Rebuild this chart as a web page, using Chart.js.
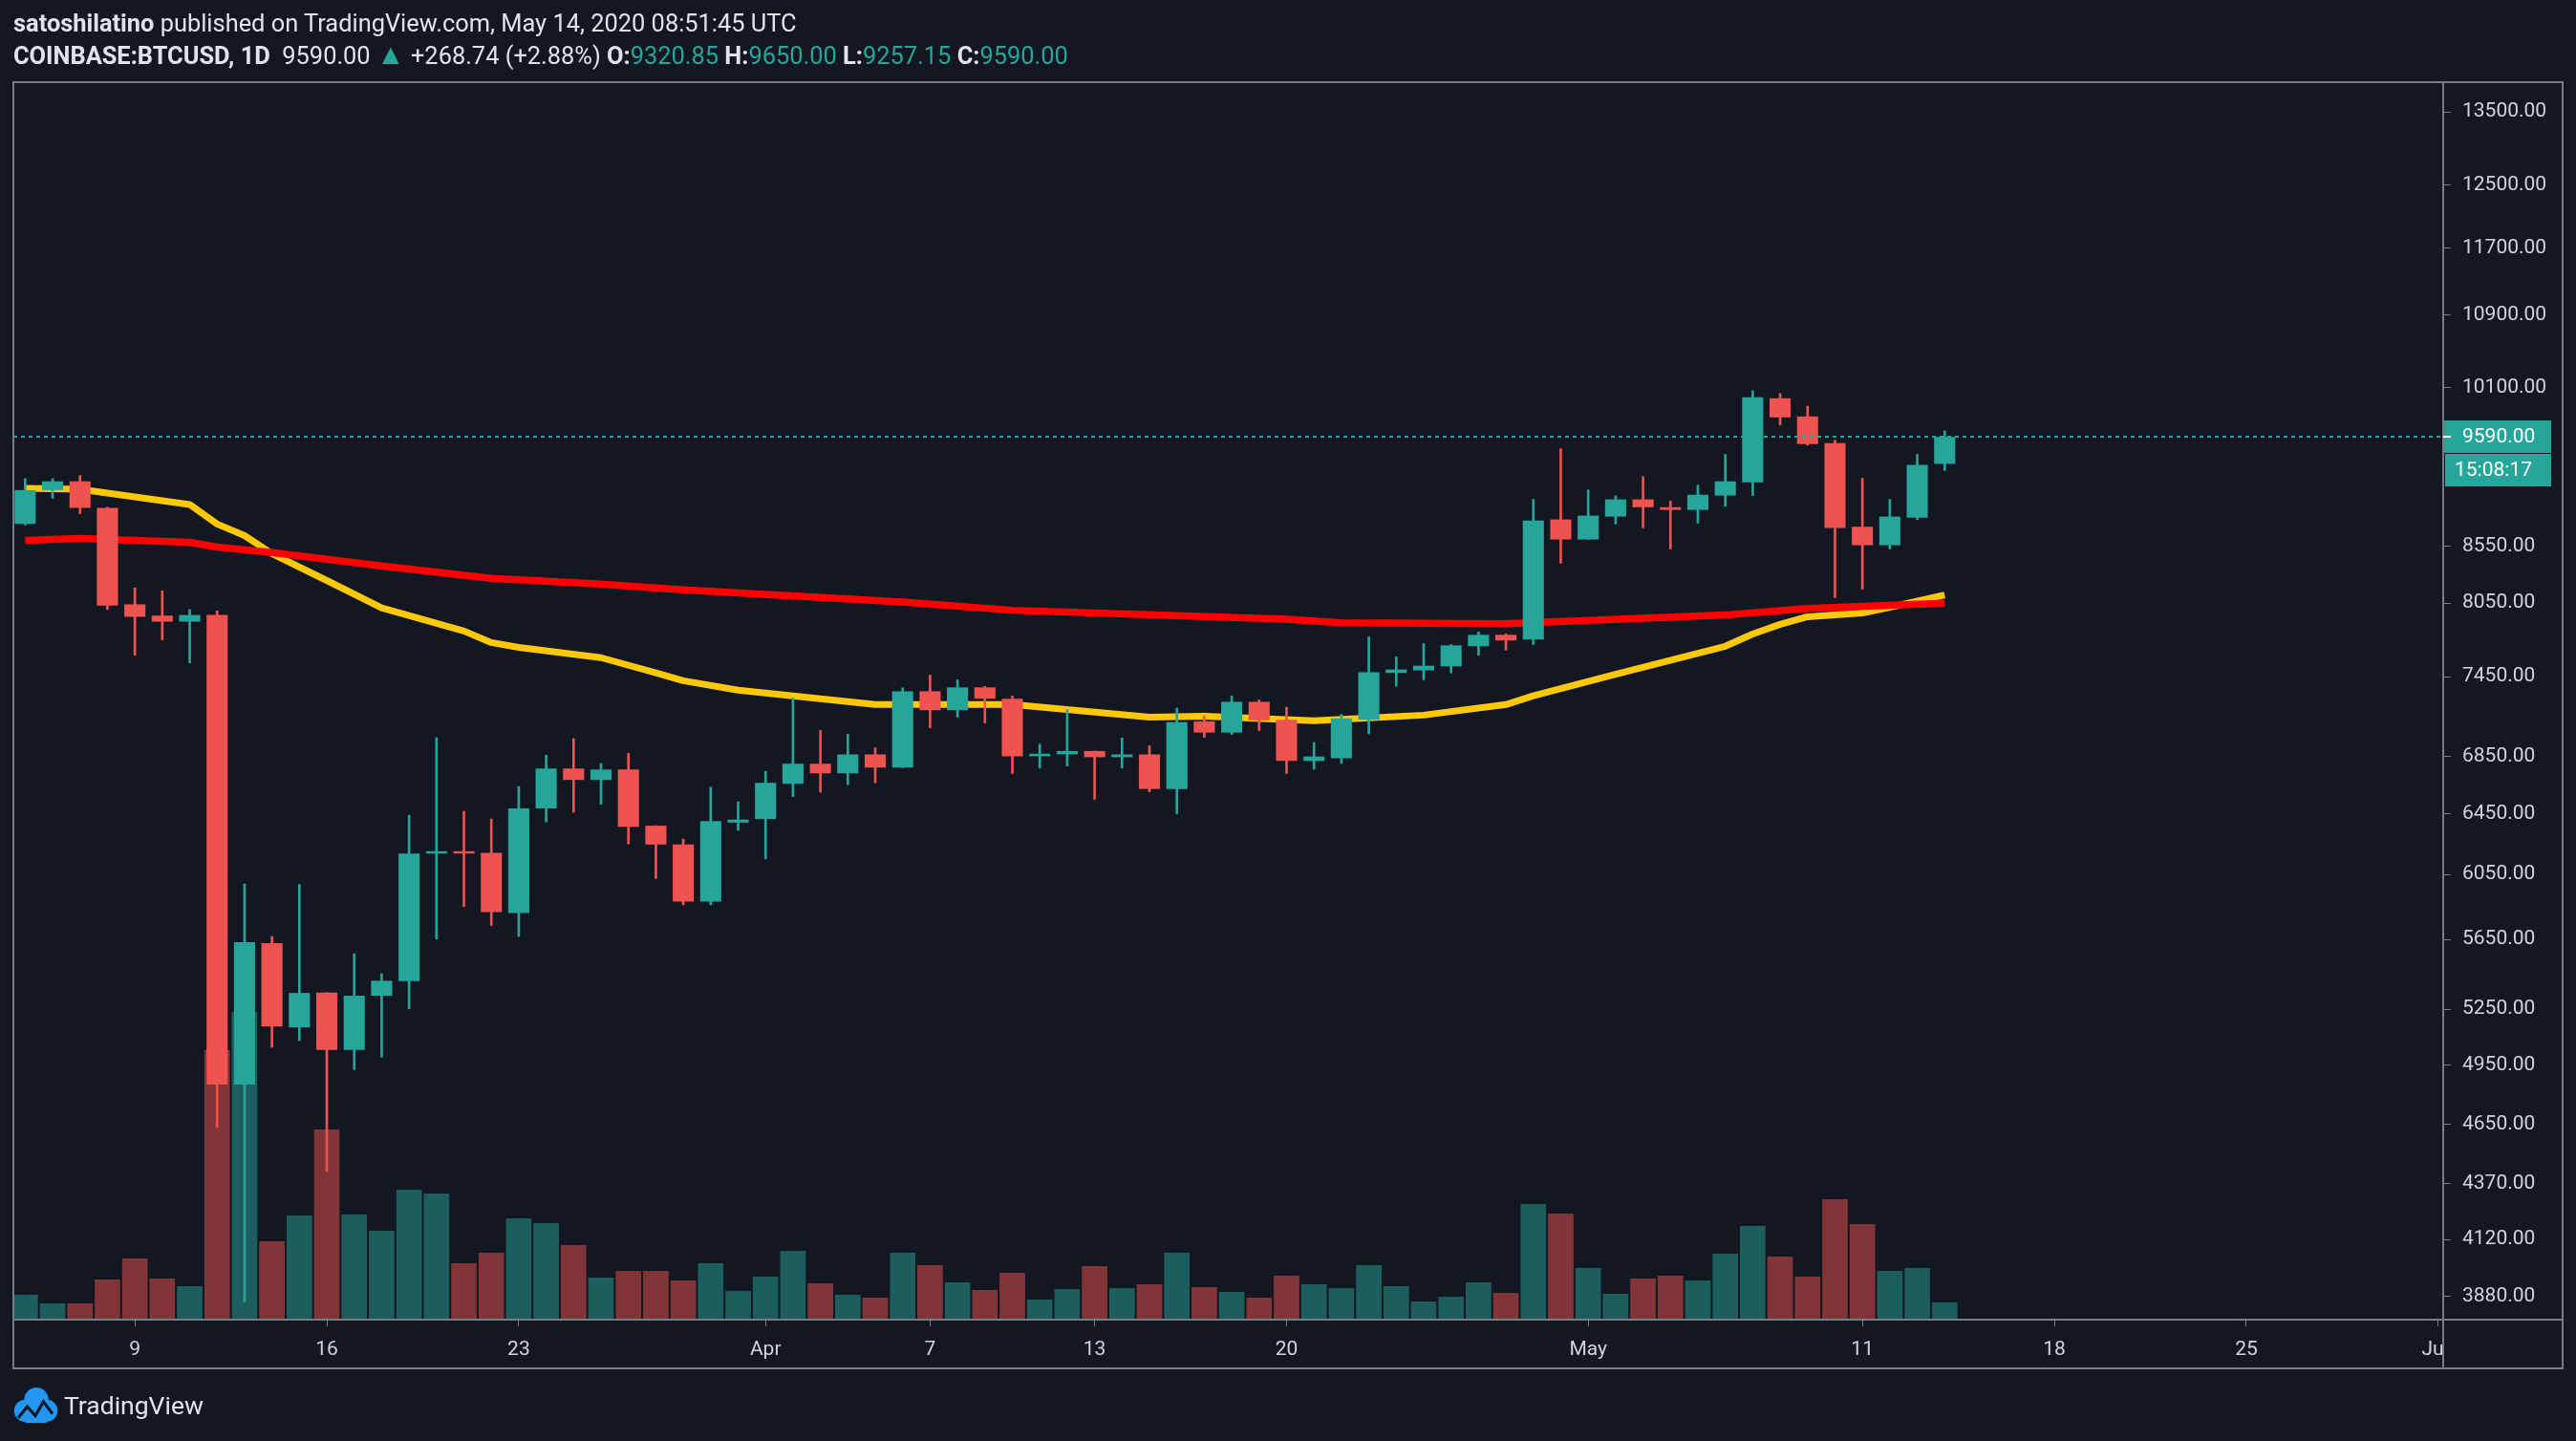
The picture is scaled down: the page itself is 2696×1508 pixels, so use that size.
<!DOCTYPE html>
<html>
<head>
<meta charset="utf-8">
<script src="https://cdn.jsdelivr.net/npm/chart.js@4.4.1/dist/chart.umd.min.js"></script>
<style>
  html, body { margin:0; padding:0; background:#131722; }
  #wrap { position:relative; width:2696px; height:1508px; overflow:hidden; }
  canvas { position:absolute; left:0; top:0; }
  .hdr { position:absolute; left:14px; font-family:Roboto, sans-serif; font-size:25.4px; line-height:28px; color:#e0e3eb; white-space:pre; }
  .up { color:#26a69a; }
  .tri { font-size:30px; }
  #logo { position:absolute; left:12px; top:1451px; display:flex; align-items:center; font-family:Roboto, sans-serif; font-size:26.5px; color:#e0e3eb; }
  #logo svg { margin-right:5px; }
</style>
</head>
<body>
<div id="wrap">
  <canvas id="chart" width="2696" height="1508"></canvas>
  <div class="hdr" style="top:10px"><b>satoshilatino</b> published on TradingView.com, May 14, 2020 08:51:45 UTC</div>
  <div class="hdr" style="top:43px"><b>COINBASE:BTCUSD, 1D</b>  9590.00 <span class="up tri">▲</span> +268.74 (+2.88%) <b>O:</b><span class="up">9320.85</span> <b>H:</b><span class="up">9650.00</span> <b>L:</b><span class="up">9257.15</span> <b>C:</b><span class="up">9590.00</span></div>
  <div id="logo">
    <svg width="50" height="38" viewBox="0 0 46 36">
      <circle cx="13" cy="24" r="11" fill="#2196f3"/>
      <circle cx="24" cy="13" r="12" fill="#2196f3"/>
      <circle cx="34" cy="24" r="11" fill="#2196f3"/>
      <rect x="13" y="20" width="21" height="16" fill="#2196f3"/>
      <polyline points="6,31 15,20 23,29 31,15 40,27" fill="none" stroke="#131722" stroke-width="3"/>
    </svg>
    <span>TradingView</span>
  </div>
</div>
<script>
// daily candles, Mar 5 .. May 14 2020 (month-day)
const dates = ['03-05','03-06','03-07','03-08','03-09','03-10','03-11','03-12','03-13','03-14','03-15','03-16','03-17','03-18','03-19','03-20','03-21','03-22','03-23','03-24','03-25','03-26','03-27','03-28','03-29','03-30','03-31',
  '04-01','04-02','04-03','04-04','04-05','04-06','04-07','04-08','04-09','04-10','04-11','04-12','04-13','04-14','04-15','04-16','04-17','04-18','04-19','04-20','04-21','04-22','04-23','04-24','04-25','04-26','04-27','04-28','04-29','04-30',
  '05-01','05-02','05-03','05-04','05-05','05-06','05-07','05-08','05-09','05-10','05-11','05-12','05-13','05-14'];

const open = [8750,9067,9151,8899,8040,7945,7895,7950,4850,5628,5151,5343,5030,5325,5408,6185,6200,6190,5810,6486,6764,6683,6757,6369,6244,5880,6390,
  6414,6656,6798,6730,6865,6771,7337,7192,7367,7280,6852,6866,6890,6845,6865,6620,7108,7025,7256,7120,6818,6838,7120,7480,7500,7532,7693,7786,7747,8791,
  8608,8818,8979,8905,8880,9015,9142,9987,9798,9527,8724,8556,8808,9320.85];
const high = [9178,9178,9206,8905,8180,8155,7996,7985,5990,5668,5987,5343,5566,5450,6439,6987,6466,6414,6637,6860,6980,6800,6874,6369,6280,6632,6530,
  6744,7286,7040,7013,6913,7364,7463,7426,7375,7300,6940,7197,6890,6985,6928,7208,7150,7300,7270,7215,6952,7160,7770,7608,7715,7707,7810,7793,8979,9471,
  9069,9012,9198,8962,9114,9414,10067,10037,9905,9556,9180,8979,9414,9650];
const low = [8740,8990,8845,7996,7620,7745,7560,4636,3858,5044,5080,4426,4927,4992,5253,5653,5850,5734,5668,6394,6460,6514,6248,6025,5860,5860,6338,
  6150,6567,6598,6651,6663,6770,7060,7141,7096,6729,6767,6782,6548,6767,6600,6450,6990,7010,7040,6729,6760,6800,7015,7376,7426,7480,7620,7662,7707,8395,
  8608,8749,8714,8522,8758,8914,9015,9710,9507,8097,8170,8522,8790,9257.15];
const close = [9067,9151,8899,8030,7935,7895,7950,4850,5634,5156,5341,5030,5325,5410,6185,6200,6185,5815,6486,6764,6683,6757,6362,6244,5880,6400,6410,
  6663,6798,6730,6865,6771,7337,7192,7367,7280,6852,6870,6890,6845,6865,6620,7102,7025,7256,7116,6818,6850,7130,7486,7507,7537,7700,7786,7740,8782,8608,
  8827,8979,8905,8880,9023,9151,9997,9788,9517,8714,8556,8818,9310,9590];
// volume, thousand BTC (estimated)
const volume = [10.4,6.8,6.8,16.8,25.6,17.2,14.0,112.8,128.8,32.8,43.6,79.6,44.0,37.2,54.4,52.8,23.6,28.0,42.4,40.4,31.2,17.6,20.4,20.4,16.4,23.6,12.0,
  18.0,28.8,15.2,10.4,9.2,28.0,22.8,15.6,12.4,19.6,8.4,12.8,22.4,13.2,14.8,28.0,13.6,11.6,9.2,18.4,14.8,13.2,22.8,14.0,7.6,9.6,15.6,11.2,48.4,44.4,
  21.6,10.8,17.2,18.4,16.4,27.6,39.2,26.4,18.0,50.4,40.0,20.4,21.6,7.2];

// moving averages, read at their corners
const maRedDates = ['03-05','03-07','03-11','03-12','03-14','03-18','03-22','03-26','03-29','04-06','04-10','04-16','04-20','04-22','04-28','05-06','05-09','05-14'];
const maRedValues = [8600,8617,8583,8540,8490,8371,8262,8213,8164,8060,7990,7945,7915,7885,7878,7950,8005,8050];
const maYellowDates = ['03-05','03-07','03-11','03-12','03-13','03-14','03-16','03-18','03-21','03-22','03-23','03-26','03-28','03-29','03-31','04-02','04-05','04-10','04-15','04-17','04-21','04-25','04-28','04-29','05-02','05-06','05-07','05-08','05-09','05-11','05-12','05-14'];
const maYellowValues = [9085,9075,8931,8749,8643,8480,8244,8010,7817,7723,7684,7601,7480,7419,7345,7302,7235,7235,7140,7147,7113,7155,7235,7302,7470,7693,7793,7872,7935,7967,8015,8120];

const xTickDates = ['03-09','03-16','03-23','04-01','04-07','04-13','04-20','05-01','05-11','05-18','05-25','06-01'];
const xTickLabels = ['9','16','23','Apr','7','13','20','May','11','18','25','Jun'];
const priceTicks = [13500,12500,11700,10900,10100,8550,8050,7450,6850,6450,6050,5650,5250,4950,4650,4370,4120,3880];
const lastPrice = 9590;
const countdown = '15:08:17';

const UP = '#26a69a', DOWN = '#ef5350';
const GREY = '#787b86';
const FONT = { family: 'Roboto', size: 21 };

function dayOf(md){
  const [m, d] = md.split('-').map(Number);
  return (Date.UTC(2020, m-1, d) - Date.UTC(2020, 2, 9)) / 864e5;
}

const xs = dates.map(dayOf);
const isUp = close.map((c,i) => c >= open[i]);
const candleColors = isUp.map(u => u ? UP : DOWN);
const volColors = isUp.map(u => u ? 'rgba(38,166,154,0.5)' : 'rgba(239,83,80,0.5)');

const lastPricePlugin = {
  id: 'lastPrice',
  afterDatasetsDraw(chart){
    const {ctx, chartArea:a, scales:{y}} = chart;
    const py = Math.round(y.getPixelForValue(lastPrice));
    ctx.save();
    ctx.strokeStyle = UP; ctx.lineWidth = 2; ctx.setLineDash([4,4]);
    ctx.beginPath(); ctx.moveTo(a.left, py); ctx.lineTo(a.right, py); ctx.stroke();
    ctx.restore();
  },
  afterDraw(chart){
    const {ctx, chartArea:a, scales:{x,y}} = chart;
    ctx.save();
    // "Jun" label is cut by the price scale
    ctx.fillStyle = '#131722';
    ctx.fillRect(a.right+1, x.top+1, y.right - a.right - 1, x.bottom - x.top - 2);
    ctx.strokeStyle = GREY; ctx.lineWidth = 2;
    ctx.strokeRect(a.left, a.top, y.right - a.left, x.bottom - a.top);
    ctx.beginPath();
    ctx.moveTo(a.right, a.top); ctx.lineTo(a.right, x.bottom);
    ctx.moveTo(a.left, a.bottom); ctx.lineTo(y.right, a.bottom);
    ctx.stroke();

    const py = Math.round(y.getPixelForValue(lastPrice));
    ctx.fillStyle = UP;
    ctx.fillRect(a.right+1, py-17, 112, 34);
    ctx.fillRect(a.right+2, py+18, 111, 34);
    ctx.strokeStyle = '#ffffff'; ctx.lineWidth = 2;
    ctx.beginPath(); ctx.moveTo(a.right, py); ctx.lineTo(a.right+8, py); ctx.stroke();
    ctx.fillStyle = '#ffffff';
    ctx.font = '21px Roboto';
    ctx.textBaseline = 'middle';
    ctx.fillText(lastPrice.toFixed(2), a.right+20, py+1);
    ctx.fillText(countdown, a.right+12, py+36);
    ctx.restore();
  }
};

new Chart(document.getElementById('chart'), {
  type: 'bar',
  data: {
    datasets: [
      { type:'bar', label:'Volume', yAxisID:'vol', order:5,
        data: xs.map((x,i) => ({x, y: volume[i]})),
        backgroundColor: volColors, borderWidth:0, grouped:false,
        categoryPercentage:1, barPercentage:0.93 },
      { type:'line', label:'MA yellow', yAxisID:'y', order:4,
        data: maYellowDates.map((d,i) => ({x: dayOf(d), y: maYellowValues[i]})),
        borderColor:'#ffc805', borderWidth:7, pointRadius:0, tension:0, borderJoinStyle:'round' },
      { type:'line', label:'MA red', yAxisID:'y', order:3,
        data: maRedDates.map((d,i) => ({x: dayOf(d), y: maRedValues[i]})),
        borderColor:'#ff0000', borderWidth:7.5, pointRadius:0, tension:0, borderJoinStyle:'round' },
      { type:'bar', label:'Wicks', yAxisID:'y', order:2,
        data: xs.map((x,i) => ({x, y: [low[i], high[i]]})),
        backgroundColor: candleColors, borderWidth:0, grouped:false, barThickness:2 },
      { type:'bar', label:'Bodies', yAxisID:'y', order:1,
        data: xs.map((x,i) => ({x, y: [open[i], close[i]]})),
        backgroundColor: candleColors, borderWidth:0, grouped:false, minBarLength:2,
        categoryPercentage:1, barPercentage:0.77 }
    ]
  },
  options: {
    responsive:false, animation:false, devicePixelRatio:1,
    layout: { padding: { left:14, top:86, right:14, bottom:76 } },
    plugins: { legend:{display:false}, tooltip:{enabled:false} },
    scales: {
      x: { type:'linear', min:-4.43, max:84.18, offset:false,
        afterBuildTicks: s => { s.ticks = xTickDates.map(d => ({value: dayOf(d)})); },
        afterFit: s => { s.height = 51; },
        grid: { offset:false, drawOnChartArea:false, tickLength:7, color:GREY },
        border: { display:false },
        ticks: { autoSkip:false, maxRotation:0, padding:12, color:'#d1d4dc', font:FONT,
          callback: (v, i) => xTickLabels[i] } },
      y: { type:'logarithmic', position:'right', min:3787, max:13929,
        afterBuildTicks: s => { s.ticks = priceTicks.map(v => ({value:v})); },
        afterFit: s => { s.width = 125; },
        grid: { drawOnChartArea:false, tickLength:8, color:GREY },
        border: { display:false },
        ticks: { autoSkip:false, padding:12, color:'#d1d4dc', font:FONT,
          callback: v => Number(v).toFixed(2) } },
      vol: { type:'linear', display:false, min:0, max:518 }
    }
  },
  plugins: [lastPricePlugin]
});
</script>
</body>
</html>
